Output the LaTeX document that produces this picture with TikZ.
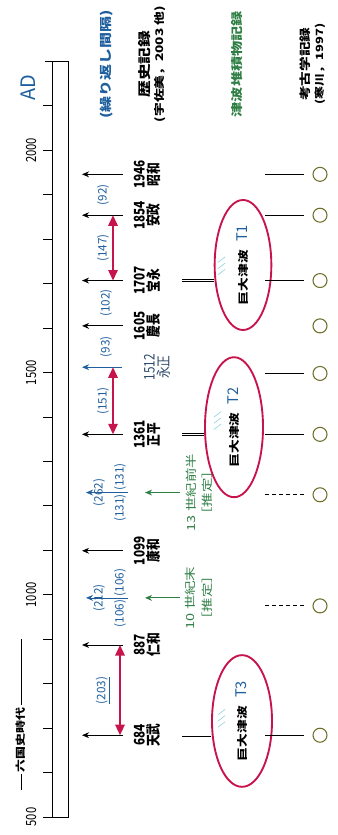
\documentclass[tikz,border=0pt]{standalone}
\usepackage{fontspec}
\setmainfont{Noto Sans CJK JP}
\usepackage{tikz}
\usetikzlibrary{shapes, arrows.meta, positioning}
\definecolor{azul}{HTML}{1F5F9E}
\definecolor{rojo}{HTML}{C8144C}
\definecolor{verde}{HTML}{2F7F45}
\definecolor{oliva}{HTML}{6E6E2C}
\definecolor{celeste}{HTML}{9AD6E2}
\definecolor{gris}{HTML}{2E4A6A}
% letra ancha y estrecha
\newcommand{\an}[1]{\scalebox{1.3}[1]{#1}}
\newcommand{\es}[1]{\scalebox{0.8}[1]{#1}}

\begin{document}
\begin{tikzpicture}[x=0.3mm, y=0.13333mm,
    every node/.style={rotate=90, inner sep=0pt},
    ev/.style={align=center, font=\fontsize{12.5}{12}\selectfont\bfseries},
    evarr/.style={-{Stealth[length=6pt,width=5pt]}, line width=0.8pt, shorten <=3.3mm},
    gap/.style={text=azul, font=\fontsize{10}{11}\selectfont},
    barr/.style={-{Stealth[length=6pt,width=5pt]}, azul, line width=0.6pt},
    span/.style={{Triangle[length=9pt,width=8pt]}-{Triangle[length=9pt,width=8pt]}, rojo, line width=1.6pt},
    big/.style={ellipse, draw=rojo, line width=1.6pt},
    ring/.style={circle, draw=oliva, line width=0.9pt, minimum size=4.2mm},
    dbl/.style={double, double distance=1.3pt, line width=0.5pt},
    rec/.style={line width=0.7pt, shorten >=2.4mm},
    est/.style={align=center, text=verde, font=\fontsize{9.5}{14}\selectfont},
    garr/.style={-{Stealth[length=6pt,width=5pt]}, verde, line width=0.7pt, shorten <=1.5mm},
    ola/.style={celeste, line width=0.6pt, line cap=round}
  ]
  \useasboundingbox (0,459.5) rectangle (337,2338.25);

  % eje de tiempo
  \draw[line width=0.7pt] (43,500) -- (68,500) -- (68,2200) -- (45,2200);
  \draw[line width=0.7pt] (52,500) -- (52,2200);
  \foreach \y in {600,700,...,2100} \draw[line width=0.7pt] (43,\y) -- (52,\y);
  \foreach \y in {500,1000,1500,2000}
    \node[font=\fontsize{12}{12}\selectfont] (y\y) at (31,\y) {\es{\y}};
  \node[text=azul, font=\fontsize{17}{17}\selectfont] (ad) at (28,2142) {AD};
  \node[font=\fontsize{8.5}{10}\selectfont\bfseries] (rikkoku) at (21,730)
    {\rule[0.5ex]{4.8mm}{0.7pt}\ \an{六国史時代}\ \rule[0.5ex]{19.8mm}{0.7pt}};

  % encabezados
  \node[text=azul, font=\fontsize{10.5}{11}\selectfont\bfseries] (h0) at (106,2194) {\an{(繰り返し間隔)}};
  \node[align=center, font=\bfseries] (h1) at (152,2194)
    {{\fontsize{11}{12}\selectfont\an{歴史記録}}\\
     {\fontsize{9}{11}\selectfont\an{(宇佐美，2003 他)}}};
  \node[text=verde, font=\fontsize{10}{12}\selectfont\bfseries] (h2) at (237,2194) {\an{津波堆積物記録}};
  \node[align=center, font=\bfseries] (h3) at (313,2194)
    {{\fontsize{9.6}{11}\selectfont\an{考古学記録}}\\
     {\fontsize{8.5}{10}\selectfont\an{(寒川，1997)}}};

  % registros historicos
  \coordinate (ax) at (82,0);
  \foreach \y/\era in {684/天武, 887/仁和, 1099/康和, 1361/正平, 1605/慶長, 1707/宝永, 1854/安政, 1946/昭和} {
    \node[ev] (n\y) at (147,\y) {\es{\y}\\\es{\era}};
    \draw[evarr] (n\y) -- (ax |- n\y);
  }
  \node[align=center, text=gris, font=\fontsize{12.5}{12}\selectfont] (n1512) at (157,1512) {\es{1512}\\\es{永正}};
  \draw[barr, line width=0.8pt, shorten <=6.6mm] (n1512) -- (ax |- n1512);

  % intervalos
  \node[gap] (g92) at (103,1900) {(92)};
  \node[gap] (g147) at (103,1780) {(147)};
  \node[gap] (g102) at (106,1656) {(102)};
  \node[gap] (g93) at (106,1558) {(93)};
  \node[gap] (g151) at (103,1436) {(151)};
  \node[gap] (g262) at (99,1230) {(262)};
  \node[gap] (g131a) at (120,1195) {(131)};
  \node[gap] (g131b) at (120,1265) {(131)};
  \node[gap] (g212) at (99,993) {(212)};
  \node[gap] (g106a) at (120,958) {(106)};
  \node[gap] (g106b) at (120,1028) {(106)};
  \node[gap] (g203) at (103,785) {\underline{(203)}};
  \coordinate (bl) at (86,0);
  \coordinate (br) at (128,0);
  \draw[barr] (br |- g262) -- (bl |- g262);
  \draw[barr] (br |- g212) -- (bl |- g212);

  % flechas rojas
  \coordinate (r1) at (113,0);
  \coordinate (r3) at (120,0);
  \draw[span] (r1 |- n1707) -- (r1 |- n1854);
  \draw[span] (r1 |- n1361) -- (r1 |- n1512);
  \draw[span] (r3 |- n684) -- (r3 |- n887);

  % estimados por depositos
  \coordinate (gx) at (145,0);
  \node[est] (w993) at (199,993) {\an{10 世紀末}\\\an{［推定］}};
  \node[est] (w1230) at (199,1230) {\an{13 世紀前半}\\\an{［推定］}};
  \draw[garr] (w993) -- (gx |- w993);
  \draw[garr] (w1230) -- (gx |- w1230);

  % grandes tsunamis
  \node[big, minimum width=39mm, minimum height=17mm] (t1) at (243,1742)
    {{\fontsize{9}{10}\selectfont\bfseries\an{巨大津波}}\hspace{2.5mm}{\color{azul}\fontsize{12.5}{13}\selectfont T1}};
  \node[big, minimum width=42mm, minimum height=17.4mm] (t2) at (234,1377)
    {{\fontsize{9}{10}\selectfont\bfseries\an{巨大津波}}\hspace{2.5mm}{\color{azul}\fontsize{12.5}{13}\selectfont T2}};
  \node[big, minimum width=39.5mm, minimum height=18mm] (t3) at (242,716)
    {{\fontsize{9}{10}\selectfont\bfseries\an{巨大津波}}\hspace{2.5mm}{\color{azul}\fontsize{12.5}{13}\selectfont T3}};
  \foreach \d in {0,14,28} {
    \draw[ola] (218,1720+\d) -- (225,1732+\d);
    \draw[ola] (214,1372+\d) -- (221,1384+\d);
    \draw[ola] (218,702+\d) -- (225,714+\d);
  }
  \coordinate (dl) at (182,0);
  \draw[dbl] (dl |- n1707) -- (t1.north |- n1707);
  \draw[dbl] (dl |- n1361) -- (t2.north |- n1361);
  \draw[dbl] (dl |- n684) -- (t3.north |- n684);

  % registros arqueologicos
  \foreach \y in {684,975,1225,1361,1498,1605,1707,1854,1946}
    \node[ring] (c\y) at (320,\y) {};
  \coordinate (rl) at (265,0);
  \foreach \y in {684,1361,1498,1707,1854,1946}
    \draw[rec] (rl |- c\y) -- (c\y);
  \foreach \y in {975,1225}
    \draw[rec, dashed] (rl |- c\y) -- (c\y);
\end{tikzpicture}
\end{document}
